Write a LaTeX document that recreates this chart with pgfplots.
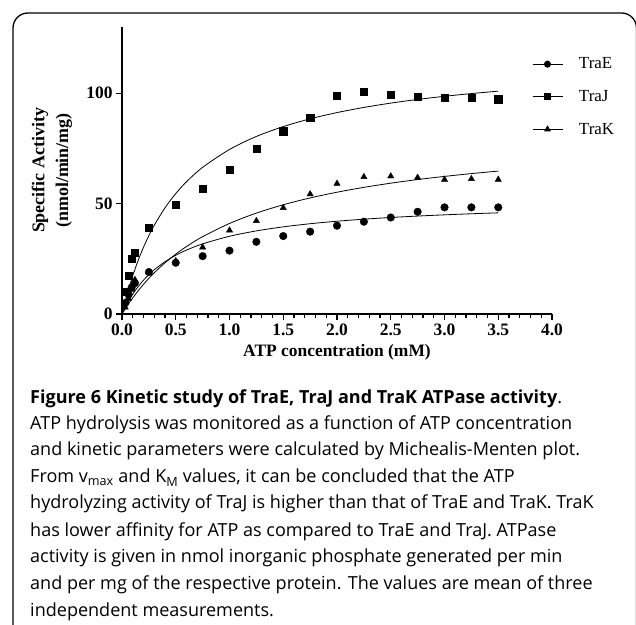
\documentclass[border=0pt]{standalone}
\usepackage{pgfplots}
\pgfplotsset{compat=1.18}
\usepackage{fontspec}
\setmainfont{Liberation Serif}
\newfontfamily\capfont{Open Sans}
\begin{document}
\begin{tikzpicture}[x=1bp,y=1bp]
\useasboundingbox (0,0) rectangle (636,625);
\begin{scope}
\clip (0,0) rectangle (636,625);
\draw[line width=1.3bp, rounded corners=15bp] (13,-20) -- (13,612) -- (636.5,612) -- (636.5,-20);
\end{scope}
\begin{axis}[
  at={(122bp,311bp)}, anchor=south west,
  width=430bp, height=287bp, scale only axis,
  xmin=0, xmax=4, ymin=0, ymax=130,
  axis lines=left,
  axis line style={-, line width=1.6bp},
  clip=false,
  xtick={0,0.5,1,1.5,2,2.5,3,3.5,4},
  minor x tick num=4,
  ytick={0,50,100},
  tick align=outside,
  major tick length=6bp, minor tick length=4bp,
  every tick/.style={line width=1.4bp, black},
  /pgf/number format/assume math mode=true,
  ticklabel style={font=\bfseries\fontsize{17.5}{17.5}\selectfont},
  xticklabel style={/pgf/number format/.cd, fixed, fixed zerofill, precision=1},
  yticklabel style={/pgf/number format/.cd, fixed, precision=0},
  xlabel={ATP concentration (mM)},
  xlabel style={font=\bfseries\fontsize{17.5}{17.5}\selectfont, yshift=-2bp},
  ylabel={Specific Activity\\(nmol/min/mg)},
  ylabel style={font=\bfseries\fontsize{18}{24}\selectfont, align=center,
    at={(axis description cs:-0.163,0.5)}, anchor=center},
  legend style={draw=none, fill=none, at={(rel axis cs:0.953,0.9)}, anchor=north west,
    font=\fontsize{17}{17}\selectfont, row sep=16bp, inner sep=0pt},
  legend cell align=left,
  legend image code/.code={\draw[#1, mark repeat=2, mark phase=2] plot coordinates {(0bp,0bp) (15bp,0bp) (30bp,0bp)};
    \path (44bp,0bp);},
]
\addlegendimage{black, line width=1bp, mark=*, mark size=3bp, mark options={solid}}
\addlegendentry{TraE}
\addlegendimage{black, line width=1bp, mark=square*, mark size=3bp, mark options={solid}}
\addlegendentry{TraJ}
\addlegendimage{black, line width=1bp, mark=triangle*, mark size=3bp, mark options={solid}}
\addlegendentry{TraK}
% fitted curves
\addplot[black, line width=0.8bp, smooth, forget plot] coordinates {
(0,0) (0.025,2.58) (0.05,4.92) (0.1,8.98) (0.15,12.40) (0.2,15.32) (0.25,17.84) (0.3,20.04) (0.4,23.68) (0.5,26.58) (0.6,28.94) (0.75,31.77) (1,35.20) (1.25,37.64) (1.5,39.47) (1.75,40.89) (2,42.02) (2.25,42.94) (2.5,43.71) (2.75,44.36) (3,44.91) (3.25,45.40) (3.5,45.82)};
\addplot[black, line width=0.8bp, smooth, forget plot] coordinates {
(0,0) (0.025,4.88) (0.05,9.36) (0.1,17.35) (0.15,24.23) (0.2,30.23) (0.25,35.51) (0.3,40.18) (0.4,48.10) (0.5,54.55) (0.6,59.90) (0.75,66.42) (1,74.52) (1.25,80.42) (1.5,84.89) (1.75,88.40) (2,91.23) (2.25,93.56) (2.5,95.52) (2.75,97.18) (3,98.60) (3.25,99.84) (3.5,100.93)};
\addplot[black, line width=0.8bp, smooth, forget plot] coordinates {
(0,0) (0.025,1.95) (0.05,3.82) (0.1,7.30) (0.15,10.50) (0.2,13.44) (0.25,16.16) (0.3,18.67) (0.4,23.18) (0.5,27.11) (0.6,30.56) (0.75,35.03) (1,41.01) (1.25,45.70) (1.5,49.47) (1.75,52.57) (2,55.16) (2.25,57.36) (2.5,59.25) (2.75,60.89) (3,62.32) (3.25,63.59) (3.5,64.73)};
% data points
\addplot[only marks, mark=*, mark size=3.8bp, black, forget plot] coordinates {
(0.03,5) (0.06,9) (0.09,12) (0.12,14) (0.25,19) (0.5,23.2) (0.75,26.2) (1,28.7) (1.25,32.7) (1.5,35.3) (1.75,37.3) (2,40) (2.25,41.8) (2.5,43.7) (2.75,46.3) (3,48.3) (3.25,48.3) (3.5,48.3)};
\addplot[only marks, mark=square*, mark size=3.6bp, black, forget plot] coordinates {
(0.03,10) (0.06,17.2) (0.09,24.9) (0.12,27.9) (0.25,39) (0.5,49.6) (0.75,56.7) (1,65.2) (1.25,75) (1.5,82.8) (1.75,89) (2,98.8) (2.25,100.6) (2.5,99.4) (2.75,98.3) (3,98) (3.25,98) (3.5,97.3)};
\addplot[only marks, mark=triangle*, mark size=3.6bp, black, forget plot] coordinates {
(0.03,3) (0.06,7) (0.09,11) (0.12,15.5) (0.25,19) (0.5,24) (0.75,30.2) (1,37.9) (1.25,42.2) (1.5,48.1) (1.75,54.3) (2,59.1) (2.25,62.1) (2.5,62.4) (2.75,61.8) (3,60.9) (3.25,61.2) (3.5,60.9)};
\end{axis}
\begin{scope}[font=\capfont\fontsize{18.1}{20}\selectfont]
\node[anchor=base west, inner sep=0] at (30,221) {\textbf{Figure 6 Kinetic study of TraE, TraJ and TraK ATPase activity}.};
\node[anchor=base west, inner sep=0] at (30,195) {ATP hydrolysis was monitored as a function of ATP concentration};
\node[anchor=base west, inner sep=0] at (30,169) {and kinetic parameters were calculated by Michealis-Menten plot.};
\node[anchor=base west, inner sep=0] at (30,142) {From v\textsubscript{max} and K\textsubscript{M} values, it can be concluded that the ATP};
\node[anchor=base west, inner sep=0] at (30,116) {hydrolyzing activity of TraJ is higher than that of TraE and TraK. TraK};
\node[anchor=base west, inner sep=0] at (30,88) {has lower affinity for ATP as compared to TraE and TraJ. ATPase};
\node[anchor=base west, inner sep=0] at (30,62) {activity is given in nmol inorganic phosphate generated per min};
\node[anchor=base west, inner sep=0] at (30,35) {and per mg of the respective protein. The values are mean of three};
\node[anchor=base west, inner sep=0] at (30,8) {independent measurements.};
\end{scope}
\end{tikzpicture}
\end{document}
